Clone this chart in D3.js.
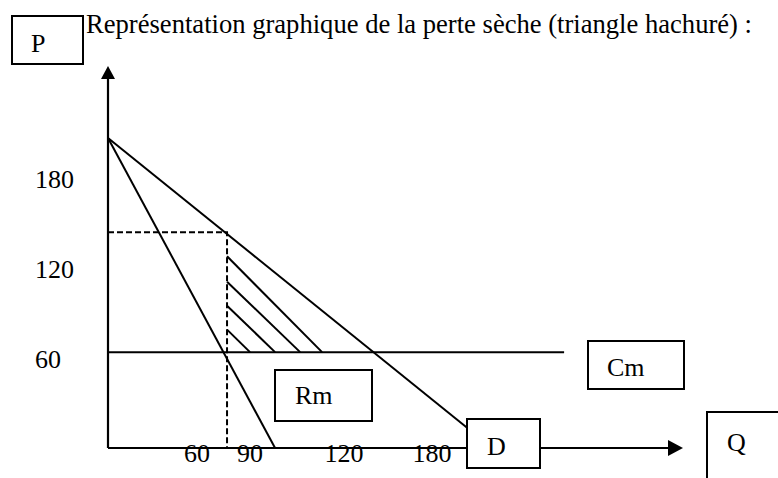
<!DOCTYPE html>
<html>
<head>
<meta charset="utf-8">
<script src="https://cdnjs.cloudflare.com/ajax/libs/d3/7.8.5/d3.min.js"></script>
<style>
  body { margin: 0; background: #fff; }
  text { font-family: "Liberation Serif", "Times New Roman", serif; fill: #000; }
</style>
</head>
<body>
<div id="chart"></div>
<script>
// tick labels
var qTicks = [60, 90, 120, 180];
var pTicks = [60, 120, 180];

// demand D : P = 207 at Q = 0, crosses Q axis at 221
var demand = [{ q: 0, p: 207 }, { q: 221, p: 0 }];
// marginal revenue Rm
var recetteMarg = [{ q: 0, p: 207 }, { q: 98, p: 0 }];
// marginal cost Cm (flat)
var coutMarg = [{ q: 0, p: 64 }, { q: 270, p: 64 }];
// monopoly point (Qm, Pm)
var monopole = { q: 77, p: 144 };
// hatch lines of the deadweight loss triangle
var hatchTop = [128, 111, 95, 79];
var hatchEndQ = [113, 106, 98, 90];

var width = 778, height = 478;

var svg = d3.select("#chart")
    .append("svg")
    .attr("width", width)
    .attr("height", height);

// the drawing is a hand-made schema, so the Q axis is not evenly spaced
var x = d3.scaleLinear()
    .domain([0, 60, 90, 120, 180, 351])
    .range([108, 197, 250, 344, 432, 683]);

var y = d3.scaleLinear()
    .domain([0, 255])
    .range([448, 66]);

var line = d3.line()
    .x(function (d) { return x(d.q); })
    .y(function (d) { return y(d.p); });

// title
svg.append("text")
    .attr("x", 86)
    .attr("y", 33)
    .style("font-size", "26.6px")
    .text("Représentation graphique de la perte sèche (triangle hachuré) :");

// dashed guides for the monopoly point
svg.append("path")
    .attr("d", line([{ q: 0, p: monopole.p }, monopole, { q: monopole.q, p: 0 }]))
    .attr("fill", "none")
    .attr("stroke", "#000")
    .attr("stroke-width", 2)
    .attr("stroke-dasharray", "6,3");

// hatching
svg.selectAll(".hatch")
    .data(hatchTop)
    .enter()
    .append("path")
    .attr("class", "hatch")
    .attr("d", function (d, i) {
        return line([{ q: monopole.q, p: d }, { q: hatchEndQ[i], p: coutMarg[0].p }]);
    })
    .attr("fill", "none")
    .attr("stroke", "#000")
    .attr("stroke-width", 2);

[demand, recetteMarg, coutMarg].forEach(function (serie) {
    svg.append("path")
        .attr("d", line(serie))
        .attr("fill", "none")
        .attr("stroke", "#000")
        .attr("stroke-width", 2);
});

// axes with arrows
var x0 = x(0), y0 = y(0), xEnd = x.range()[5], yEnd = y.range()[1];

svg.append("line")
    .attr("x1", x0).attr("y1", y0)
    .attr("x2", x0).attr("y2", yEnd + 10)
    .attr("stroke", "#000")
    .attr("stroke-width", 2.2);

svg.append("path")
    .attr("d", "M" + x0 + "," + yEnd + "L" + (x0 - 7) + "," + (yEnd + 13) + "L" + (x0 + 7) + "," + (yEnd + 13) + "Z")
    .attr("fill", "#000");

svg.append("line")
    .attr("x1", x0).attr("y1", y0)
    .attr("x2", xEnd - 10).attr("y2", y0)
    .attr("stroke", "#000")
    .attr("stroke-width", 2.2);

svg.append("path")
    .attr("d", "M" + xEnd + "," + y0 + "L" + (xEnd - 15) + "," + (y0 - 8) + "L" + (xEnd - 15) + "," + (y0 + 8) + "Z")
    .attr("fill", "#000");

// tick labels
svg.selectAll(".qtick")
    .data(qTicks)
    .enter()
    .append("text")
    .attr("class", "qtick")
    .attr("x", function (d) { return x(d); })
    .attr("y", y0 + 14)
    .attr("text-anchor", "middle")
    .style("font-size", "26px")
    .text(function (d) { return d; });

svg.selectAll(".ptick")
    .data(pTicks)
    .enter()
    .append("text")
    .attr("class", "ptick")
    .attr("x", 35)
    .attr("y", function (d) { return y(d) + 9.5; })
    .style("font-size", "26px")
    .text(function (d) { return d; });

// boxed labels
var boxes = [
    { label: "P", x: 12, y: 16, w: 71, h: 48, tx: 31, ty: 52 },
    { label: "Rm", x: 275, y: 370, w: 97, h: 51, tx: 295, ty: 404 },
    { label: "Cm", x: 588, y: 341, w: 96, h: 48, tx: 607, ty: 376 },
    { label: "D", x: 467, y: 419, w: 73, h: 49, tx: 487, ty: 455 },
    { label: "Q", x: 707, y: 412, w: 90, h: 90, tx: 727, ty: 451 }
];

var box = svg.selectAll(".box")
    .data(boxes)
    .enter()
    .append("g")
    .attr("class", "box");

box.append("rect")
    .attr("x", function (d) { return d.x; })
    .attr("y", function (d) { return d.y; })
    .attr("width", function (d) { return d.w; })
    .attr("height", function (d) { return d.h; })
    .attr("fill", "#fff")
    .attr("stroke", "#000")
    .attr("stroke-width", 2);

box.append("text")
    .attr("x", function (d) { return d.tx; })
    .attr("y", function (d) { return d.ty; })
    .style("font-size", "26px")
    .text(function (d) { return d.label; });
</script>
</body>
</html>
